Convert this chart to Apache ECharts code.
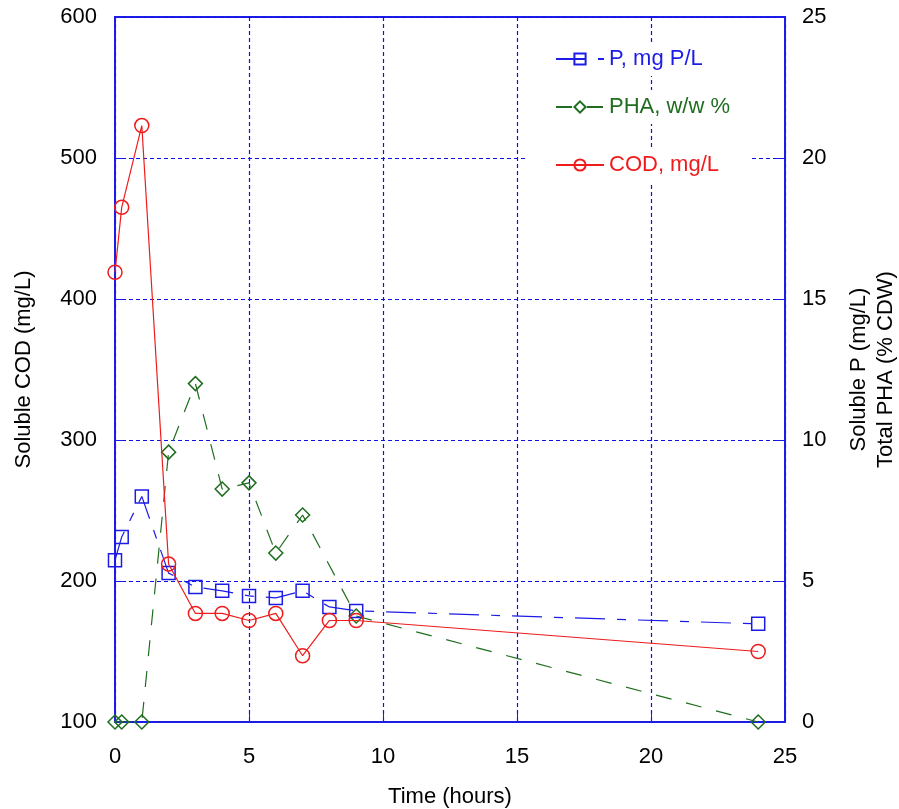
<!DOCTYPE html>
<html>
<head>
<meta charset="utf-8">
<script src="https://cdn.jsdelivr.net/npm/echarts@6/dist/echarts.min.js"></script>
<style>
  html, body { margin: 0; padding: 0; background: #fff; }
  #chart { width: 899px; height: 809px; }
</style>
</head>
<body>
<div id="chart"></div>
<script>
// sampling times (hours)
const hours = [0, 0.25, 1, 2, 3, 4, 5, 6, 7, 8, 9, 24]
// soluble COD, mg/L (left axis)
const cod = [419, 465, 523, 212, 177, 177, 172, 177, 147, 172, 172, 150]
// soluble P, mg P/L (right axis)
const solubleP = [5.74, 6.56, 8.0, 5.28, 4.79, 4.65, 4.47, 4.4, 4.65, 4.08, 3.94, 3.48]
// PHA, % CDW (right axis); no sample at 8 h
const pha = [0, 0, 0, 9.57, 12.0, 8.26, 8.48, 5.99, 7.34, null, 3.76, 0]

const leftTicks = [100, 600, 100]   // min, max, step
const rightTicks = [0, 25, 5]
const timeTicks = [0, 25, 5]

const BLUE = '#1c1ce6'
const GREEN = '#1f6e1f'
const RED = '#ee1c1c'
const FONT = 'Liberation Sans, Arial, sans-serif'

const pairs = (ys) => hours.map((h, i) => [h, ys[i]])

const chart = echarts.init(document.getElementById('chart'))

const legendItem = (top, name, color) => ({
  orient: 'vertical',
  left: 525,
  top,
  itemWidth: 48,
  itemHeight: 14,
  itemGap: 12,
  backgroundColor: '#fff',
  padding: [6, 32, 6, 30],
  textStyle: { fontFamily: FONT, fontSize: 22 },
  data: [{ name, textStyle: { color } }],
})

const gridLine = () => ({
  show: true,
  lineStyle: { color: '#1010e8', type: [4, 3], width: 1.2 },
})

chart.setOption({
  animation: false,
  grid: {
    left: 115,
    right: 114,
    top: 17,
    bottom: 87,
    outerBoundsMode: 'none',
    show: true,
    borderColor: BLUE,
    borderWidth: 2,
    backgroundColor: 'transparent',
  },
  legend: [
    legendItem(42, 'P, mg P/L', BLUE),
    legendItem(90, 'PHA, w/w %', GREEN),
    legendItem(148, 'COD, mg/L', RED),
  ],
  xAxis: {
    type: 'value',
    min: timeTicks[0],
    max: timeTicks[1],
    interval: timeTicks[2],
    name: 'Time (hours)',
    nameLocation: 'middle',
    nameGap: 64,
    nameTextStyle: { fontFamily: FONT, fontSize: 22, color: '#000' },
    axisLine: { lineStyle: { color: BLUE, width: 2 } },
    axisTick: { inside: true, length: 8, lineStyle: { color: BLUE } },
    axisLabel: { fontFamily: FONT, fontSize: 22, color: '#000', margin: 24 },
    splitLine: gridLine(),
  },
  yAxis: [
    {
      type: 'value',
      min: leftTicks[0],
      max: leftTicks[1],
      interval: leftTicks[2],
      name: 'Soluble COD (mg/L)',
      nameLocation: 'middle',
      nameGap: 80,
      nameTextStyle: { fontFamily: FONT, fontSize: 22, color: '#000' },
      axisLine: { show: true, lineStyle: { color: BLUE, width: 2 } },
      axisTick: { inside: true, length: 8, lineStyle: { color: BLUE } },
      axisLabel: { fontFamily: FONT, fontSize: 22, color: '#000', margin: 18 },
      splitLine: gridLine(),
    },
    {
      type: 'value',
      position: 'right',
      min: rightTicks[0],
      max: rightTicks[1],
      interval: rightTicks[2],
      name: 'Soluble P (mg/L)\nTotal PHA (% CDW)',
      nameLocation: 'middle',
      nameGap: 60,
      nameRotate: 90,
      nameTextStyle: { fontFamily: FONT, fontSize: 22, color: '#000', lineHeight: 27 },
      axisLine: { show: true, lineStyle: { color: BLUE, width: 2 } },
      axisTick: { inside: true, length: 8, lineStyle: { color: BLUE } },
      axisLabel: { fontFamily: FONT, fontSize: 22, color: '#000', margin: 17 },
      splitLine: { show: false },
    },
  ],
  series: [
    {
      name: 'P, mg P/L',
      type: 'line',
      yAxisIndex: 1,
      data: pairs(solubleP),
      symbol: 'rect',
      symbolSize: 13,
      itemStyle: { color: 'rgba(255,255,255,0)', borderColor: BLUE, borderWidth: 1.5 },
      lineStyle: { color: BLUE, width: 1.2, type: [30, 12, 9, 12] },
      z: 3,
    },
    {
      name: 'PHA, w/w %',
      type: 'line',
      yAxisIndex: 1,
      data: pairs(pha),
      connectNulls: true,
      symbol: 'diamond',
      symbolSize: 14,
      itemStyle: { color: 'rgba(255,255,255,0)', borderColor: GREEN, borderWidth: 1.5 },
      lineStyle: { color: GREEN, width: 1.2, type: [16, 15] },
      z: 2,
    },
    {
      name: 'COD, mg/L',
      type: 'line',
      yAxisIndex: 0,
      data: pairs(cod),
      symbol: 'circle',
      symbolSize: 14,
      itemStyle: { color: 'rgba(255,255,255,0)', borderColor: RED, borderWidth: 1.5 },
      lineStyle: { color: RED, width: 1.2 },
      z: 4,
    },
  ],
})
</script>
</body>
</html>
